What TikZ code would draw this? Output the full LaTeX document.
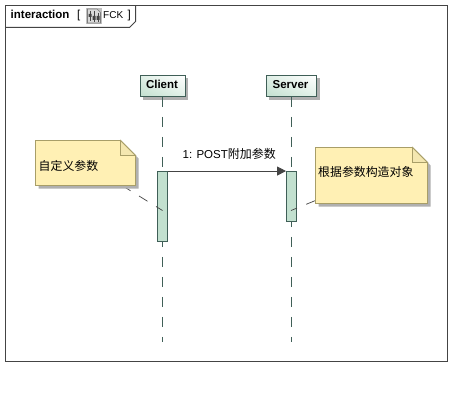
\documentclass[tikz,border=0pt]{standalone}
\usepackage{fontspec}
\setmainfont{Liberation Sans}
\newfontfamily\cjk{Noto Sans CJK SC}
\usetikzlibrary{arrows.meta,calc,shadings}
\definecolor{frameC}{HTML}{444444}
\definecolor{lineC}{HTML}{3F5F57}
\definecolor{actC}{HTML}{C2E0CF}
\definecolor{noteC}{HTML}{FFF0B4}
\definecolor{noteL}{HTML}{A89E68}
\definecolor{foldC}{HTML}{F4E7B0}
\definecolor{shadowC}{HTML}{B0B0B0}
\tikzset{
  lifebox/.style={draw=lineC,line width=.9pt,minimum height=21pt,inner sep=0pt,lower left=actC,lower right=white!50!actC,upper left=white!50!actC,upper right=white,text=black},
  lifetext/.style={inner sep=0pt,anchor=base,font=\bfseries\fontsize{11.5}{13}\selectfont,text=black},
  actbox/.style={draw=lineC,line width=.9pt,fill=actC,inner sep=0pt,minimum width=10pt},
  lifeline/.style={draw=lineC,line width=.9pt,dash pattern=on 10pt off 10pt},
  notebody/.style={inner sep=0pt,font=\fontsize{11.9}{13}\cjk,text=black,align=left},
  anchorline/.style={draw=frameC,line width=.7pt,dash pattern=on 10pt off 10pt},
  msg/.style={draw=frameC,line width=.8pt,-{Triangle[length=9pt,width=9pt,fill=frameC]}},
  lab/.style={inner sep=0pt,anchor=base west,text=black,font=\fontsize{11.5}{13}\selectfont},
}
\newcommand{\notebox}[6]{% name x1 y1 x2 y2 fold
  \fill[shadowC] (#2+3,#3+3) -- (#4-#6+3,#3+3) -- (#4+3,#3+#6+3) -- (#4+3,#5+3) -- (#2+3,#5+3) -- cycle;
  \path[fill=noteC,draw=noteL,line width=.9pt] (#2,#3) -- (#4-#6,#3) -- (#4,#3+#6) -- (#4,#5) -- (#2,#5) -- cycle;
  \path[fill=foldC,draw=noteL,line width=.9pt] (#4-#6,#3) -- (#4-#6,#3+#6) -- (#4,#3+#6) -- cycle;
  \node[inner sep=0pt,minimum width=#4pt-#2pt,minimum height=#5pt-#3pt] (#1) at ({(#2+#4)/2},{(#3+#5)/2}) {};
}
\begin{document}
\begin{tikzpicture}[x=1pt,y=-1pt]
\useasboundingbox (0,0) rectangle (462,401);
\fill[white] (0,0) rectangle (462,401);
% frame
\draw[frameC,line width=1pt] (5.5,5.5) rectangle (447.5,361.5);
\draw[frameC,line width=1pt] (5.5,27.5) -- (129.5,27.5) -- (135.5,21.5) -- (135.5,5.5);
\node[lab,font=\bfseries\fontsize{11.5}{13}\selectfont] (kind) at (10.5,18.5) {interaction};
\node[lab] (lb) at (77,18.5) {[};
% icon
\fill[shadowC!80] (86,8) rectangle (101.5,24);
\draw[frameC!70,line width=.6pt,fill=white!85!black] (87.5,9) -- (97,9) -- (100.5,12.5) -- (100.5,23) -- (87.5,23) -- cycle;
\draw[frameC,line width=.8pt] (90,11) -- (90,21) (94,11) -- (94,22) (98,13) -- (98,22);
\fill[frameC] (88.5,14) rectangle (91.5,17) (92.5,16) rectangle (95.5,20) (96.5,16) rectangle (99.5,20);
\node[lab,font=\fontsize{10}{12}\selectfont] (fck) at (103,18.5) {FCK};
\node[lab] (rb) at (127.5,18.5) {]};
% lifelines
\fill[shadowC] (143,78) rectangle (188,100);
\fill[shadowC] (269,78) rectangle (319.5,100);
\node[lifebox,minimum width=45pt] (client) at (162.5,86) {};
\node[lifebox,minimum width=50.5pt] (server) at (291.25,86) {};
\node[lifetext] (clientText) at (162,88.5) {Client};
\node[lifetext] (serverText) at (290.5,88.5) {Server};
\coordinate (clientEnd) at (client.south |- 0,342);
\coordinate (serverEnd) at (server.south |- 0,342);
\draw[lifeline] (client.south) -- (clientEnd);
\draw[lifeline] (server.south) -- (serverEnd);
% activations
\node[actbox,minimum height=70pt] (actA) at (162.5,206.5) {};
\node[actbox,minimum height=50pt] (actB) at (291.5,196.5) {};
% message
\coordinate (msgFrom) at (actA.north east);
\coordinate (msgTo) at (actB.north west);
\draw[msg] (msgFrom) -- (msgTo);
\node[lab] (msgLab) at (182.5,158) {1: POST{\cjk\fontsize{12}{13}\selectfont 附加参数}};
% notes
\coordinate (aimA) at (162.5,210.5);
\coordinate (aimB) at (291,210.5);
\coordinate (fromA) at (122,185.5);
\coordinate (fromB) at (315.5,200.5);
\draw[anchorline] (fromA) -- (aimA);
\draw[anchorline] (fromB) -- (aimB);
\notebox{noteA}{35.5}{140.5}{135.5}{185.5}{15}
\notebox{noteB}{315.5}{147.5}{427.5}{203.5}{15}
\node[notebody,anchor=west] (noteAt) at (38.5,165.5) {自定义参数};
\node[notebody,anchor=west] (noteBt) at (318,172) {根据参数构造对象};
\end{tikzpicture}
\end{document}
